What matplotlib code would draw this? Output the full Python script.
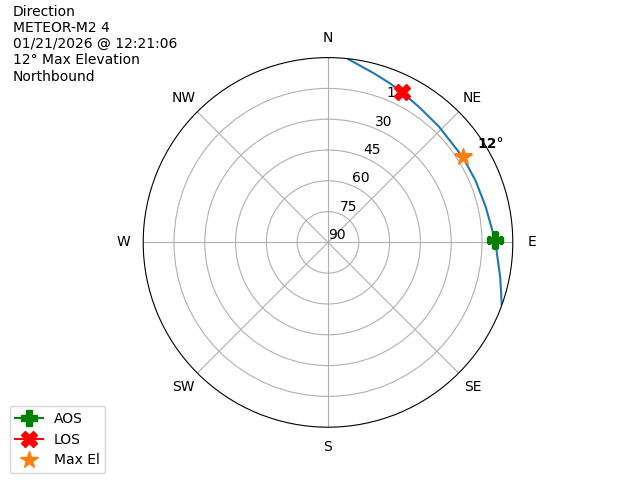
import numpy as np
import matplotlib
matplotlib.use("Agg")
import matplotlib.pyplot as plt

# pass track (azimuth deg, elevation deg)
track_az = [6.3, 15, 21.4, 26.2, 33.8, 43.8, 57.8, 67.3, 77, 89.3, 101.5, 109.6]
track_el = [0.2, 4.6, 6.9, 8.5, 10.5, 11.9, 12.3, 12.1, 11.3, 8.6, 4.4, 0.2]

aos_az, aos_el = 89.2, 8.5
los_az, los_el = 26.2, 8.6
max_az, max_el = 57.8, 12.3

title_lines = ["Direction", "METEOR-M2 4", "01/21/2026 @ 12:21:06",
               "12° Max Elevation", "Northbound"]
compass = ["N", "NE", "E", "SE", "S", "SW", "W", "NW"]
el_ticks = [90, 75, 60, 45, 30, 15]

fig = plt.figure(figsize=(6.4, 4.8), dpi=100)
ax = fig.add_subplot(111, projection="polar")
ax.set_theta_zero_location("N")
ax.set_theta_direction(-1)

ax.plot(np.radians(track_az), 90 - np.array(track_el), color="tab:blue")
ax.plot(np.radians(aos_az), 90 - aos_el, marker="P", color="green",
        markersize=12, label="AOS")
ax.plot(np.radians(los_az), 90 - los_el, marker="X", color="red",
        markersize=12, label="LOS")
ax.plot(np.radians(max_az), 90 - max_el, marker="*", color="tab:orange",
        linestyle="none", markersize=13, label="Max El")
ax.annotate("12°", (np.radians(max_az), 90 - max_el), xytext=(14, 13),
            textcoords="offset pixels", ha="left", va="center",
            fontweight="bold")

ax.set_thetagrids(np.arange(0, 360, 45), compass)
ax.set_rlim(0, 90)
ax.set_yticks([90 - e for e in el_ticks])
ax.set_yticklabels([str(e) for e in el_ticks])

fig.text(0.02, 0.99, "\n".join(title_lines), ha="left", va="top")
fig.legend(loc="lower left", bbox_to_anchor=(0.004, 0.0))

fig.savefig("out.png")
